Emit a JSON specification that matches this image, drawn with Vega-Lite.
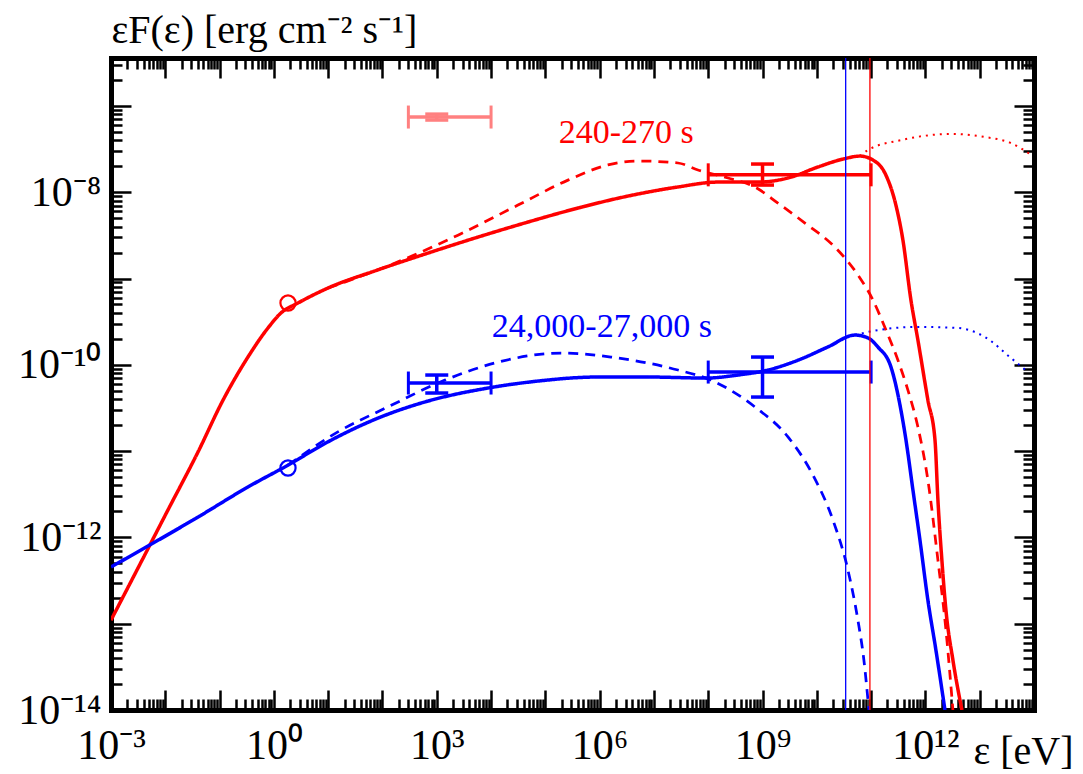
{
  "$schema": "https://vega.github.io/schema/vega-lite/v6.json",
  "width": 923,
  "height": 652,
  "autosize": "none",
  "padding": {"left": 111, "top": 58, "right": 49, "bottom": 64},
  "background": "white",
  "config": {"view": {"stroke": null}, "font": "Liberation Serif, Times New Roman, serif"},
  "resolve": {"axis": {"x": "independent", "y": "independent"}},
  "datasets": {
    "curves": [
      {"epoch": "240-270 s", "model": "total", "energy": 1e-3, "flux": 1.10e-13},
      {"epoch": "240-270 s", "model": "total", "energy": 3.14e-3, "flux": 4.41e-13},
      {"epoch": "240-270 s", "model": "total", "energy": 1.12e-2, "flux": 2.08e-12},
      {"epoch": "240-270 s", "model": "total", "energy": 4.0e-2, "flux": 9.75e-12},
      {"epoch": "240-270 s", "model": "total", "energy": 0.116, "flux": 3.91e-11},
      {"epoch": "240-270 s", "model": "total", "energy": 0.333, "flux": 1.23e-10},
      {"epoch": "240-270 s", "model": "total", "energy": 0.778, "flux": 2.67e-10},
      {"epoch": "240-270 s", "model": "total", "energy": 1.35, "flux": 3.98e-10},
      {"epoch": "240-270 s", "model": "total", "energy": 2.78, "flux": 5.20e-10},
      {"epoch": "240-270 s", "model": "total", "energy": 9.91, "flux": 7.75e-10},
      {"epoch": "240-270 s", "model": "total", "energy": 82.6, "flux": 1.26e-9},
      {"epoch": "240-270 s", "model": "total", "energy": 689, "flux": 1.97e-9},
      {"epoch": "240-270 s", "model": "total", "energy": 5740, "flux": 3.02e-9},
      {"epoch": "240-270 s", "model": "total", "energy": 4.79e4, "flux": 4.51e-9},
      {"epoch": "240-270 s", "model": "total", "energy": 3.98e5, "flux": 6.55e-9},
      {"epoch": "240-270 s", "model": "total", "energy": 3.32e6, "flux": 9.02e-9},
      {"epoch": "240-270 s", "model": "total", "energy": 2.77e7, "flux": 1.15e-8},
      {"epoch": "240-270 s", "model": "total", "energy": 1.51e8, "flux": 1.31e-8},
      {"epoch": "240-270 s", "model": "total", "energy": 8.22e8, "flux": 1.31e-8},
      {"epoch": "240-270 s", "model": "total", "energy": 2.94e9, "flux": 1.46e-8},
      {"epoch": "240-270 s", "model": "total", "energy": 1.05e10, "flux": 1.96e-8},
      {"epoch": "240-270 s", "model": "total", "energy": 3.03e10, "flux": 2.42e-8},
      {"epoch": "240-270 s", "model": "total", "energy": 6.22e10, "flux": 2.62e-8},
      {"epoch": "240-270 s", "model": "total", "energy": 1.08e11, "flux": 2.36e-8},
      {"epoch": "240-270 s", "model": "total", "energy": 1.87e11, "flux": 1.58e-8},
      {"epoch": "240-270 s", "model": "total", "energy": 2.86e11, "flux": 7.09e-9},
      {"epoch": "240-270 s", "model": "total", "energy": 3.85e11, "flux": 2.79e-9},
      {"epoch": "240-270 s", "model": "total", "energy": 5.41e11, "flux": 5.63e-10},
      {"epoch": "240-270 s", "model": "total", "energy": 7.28e11, "flux": 1.93e-10},
      {"epoch": "240-270 s", "model": "total", "energy": 1.11e12, "flux": 3.91e-11},
      {"epoch": "240-270 s", "model": "total", "energy": 1.50e12, "flux": 1.35e-11},
      {"epoch": "240-270 s", "model": "total", "energy": 1.70e12, "flux": 2.71e-12},
      {"epoch": "240-270 s", "model": "total", "energy": 2.01e12, "flux": 5.47e-13},
      {"epoch": "240-270 s", "model": "total", "energy": 2.39e12, "flux": 1.43e-13},
      {"epoch": "240-270 s", "model": "total", "energy": 3.21e12, "flux": 3.79e-14},
      {"epoch": "240-270 s", "model": "total", "energy": 4.70e12, "flux": 1e-14},

      {"epoch": "240-270 s", "model": "component", "energy": 9.91, "flux": 7.75e-10},
      {"epoch": "240-270 s", "model": "component", "energy": 193, "flux": 1.56e-9},
      {"epoch": "240-270 s", "model": "component", "energy": 2455, "flux": 3.18e-9},
      {"epoch": "240-270 s", "model": "component", "energy": 3.13e4, "flux": 7.09e-9},
      {"epoch": "240-270 s", "model": "component", "energy": 2.61e5, "flux": 1.38e-8},
      {"epoch": "240-270 s", "model": "component", "energy": 1.42e6, "flux": 2.07e-8},
      {"epoch": "240-270 s", "model": "component", "energy": 5.07e6, "flux": 2.30e-8},
      {"epoch": "240-270 s", "model": "component", "energy": 2.77e7, "flux": 2.18e-8},
      {"epoch": "240-270 s", "model": "component", "energy": 6.46e7, "flux": 1.81e-8},
      {"epoch": "240-270 s", "model": "component", "energy": 2.31e8, "flux": 1.46e-8},
      {"epoch": "240-270 s", "model": "component", "energy": 7.24e8, "flux": 1.15e-8},
      {"epoch": "240-270 s", "model": "component", "energy": 1.92e9, "flux": 7.48e-9},
      {"epoch": "240-270 s", "model": "component", "energy": 6.04e9, "flux": 4.39e-9},
      {"epoch": "240-270 s", "model": "component", "energy": 2.15e10, "flux": 2.31e-9},
      {"epoch": "240-270 s", "model": "component", "energy": 5.71e10, "flux": 1.10e-9},
      {"epoch": "240-270 s", "model": "component", "energy": 1.08e11, "flux": 5.63e-10},
      {"epoch": "240-270 s", "model": "component", "energy": 1.87e11, "flux": 2.54e-10},
      {"epoch": "240-270 s", "model": "component", "energy": 3.12e11, "flux": 1.13e-10},
      {"epoch": "240-270 s", "model": "component", "energy": 4.76e11, "flux": 5.09e-11},
      {"epoch": "240-270 s", "model": "component", "energy": 7.28e11, "flux": 1.90e-11},
      {"epoch": "240-270 s", "model": "component", "energy": 1.11e12, "flux": 4.63e-12},
      {"epoch": "240-270 s", "model": "component", "energy": 1.70e12, "flux": 5.47e-13},
      {"epoch": "240-270 s", "model": "component", "energy": 2.39e12, "flux": 8.45e-14},
      {"epoch": "240-270 s", "model": "component", "energy": 3.21e12, "flux": 1e-14},

      {"epoch": "240-270 s", "model": "unabsorbed", "energy": 6.22e10, "flux": 2.62e-8},
      {"epoch": "240-270 s", "model": "unabsorbed", "energy": 8.73e10, "flux": 3.08e-8},
      {"epoch": "240-270 s", "model": "unabsorbed", "energy": 3.54e11, "flux": 4.01e-8},
      {"epoch": "240-270 s", "model": "unabsorbed", "energy": 2.95e12, "flux": 4.73e-8},
      {"epoch": "240-270 s", "model": "unabsorbed", "energy": 1.25e13, "flux": 4.36e-8},
      {"epoch": "240-270 s", "model": "unabsorbed", "energy": 3.76e13, "flux": 3.71e-8},
      {"epoch": "240-270 s", "model": "unabsorbed", "energy": 9.55e13, "flux": 2.62e-8},

      {"epoch": "24,000-27,000 s", "model": "total", "energy": 1e-3, "flux": 4.54e-13},
      {"epoch": "24,000-27,000 s", "model": "total", "energy": 4.80e-3, "flux": 7.94e-13},
      {"epoch": "24,000-27,000 s", "model": "total", "energy": 4.0e-2, "flux": 1.72e-12},
      {"epoch": "24,000-27,000 s", "model": "total", "energy": 0.333, "flux": 3.84e-12},
      {"epoch": "24,000-27,000 s", "model": "total", "energy": 1.82, "flux": 6.88e-12},
      {"epoch": "24,000-27,000 s", "model": "total", "energy": 9.91, "flux": 1.28e-11},
      {"epoch": "24,000-27,000 s", "model": "total", "energy": 82.6, "flux": 2.41e-11},
      {"epoch": "24,000-27,000 s", "model": "total", "energy": 689, "flux": 3.80e-11},
      {"epoch": "24,000-27,000 s", "model": "total", "energy": 8770, "flux": 5.38e-11},
      {"epoch": "24,000-27,000 s", "model": "total", "energy": 7.31e4, "flux": 6.48e-11},
      {"epoch": "24,000-27,000 s", "model": "total", "energy": 9.31e5, "flux": 7.22e-11},
      {"epoch": "24,000-27,000 s", "model": "total", "energy": 7.76e6, "flux": 7.22e-11},
      {"epoch": "24,000-27,000 s", "model": "total", "energy": 9.08e7, "flux": 7.02e-11},
      {"epoch": "24,000-27,000 s", "model": "total", "energy": 3.52e8, "flux": 7.61e-11},
      {"epoch": "24,000-27,000 s", "model": "total", "energy": 1.26e9, "flux": 8.70e-11},
      {"epoch": "24,000-27,000 s", "model": "total", "energy": 4.49e9, "flux": 1.13e-10},
      {"epoch": "24,000-27,000 s", "model": "total", "energy": 1.60e10, "flux": 1.61e-10},
      {"epoch": "24,000-27,000 s", "model": "total", "energy": 5.04e10, "flux": 2.21e-10},
      {"epoch": "24,000-27,000 s", "model": "total", "energy": 8.73e10, "flux": 2.05e-10},
      {"epoch": "24,000-27,000 s", "model": "total", "energy": 1.33e11, "flux": 1.61e-10},
      {"epoch": "24,000-27,000 s", "model": "total", "energy": 2.32e11, "flux": 9.42e-11},
      {"epoch": "24,000-27,000 s", "model": "total", "energy": 3.54e11, "flux": 2.99e-11},
      {"epoch": "24,000-27,000 s", "model": "total", "energy": 4.38e11, "flux": 1.35e-11},
      {"epoch": "24,000-27,000 s", "model": "total", "energy": 5.89e11, "flux": 3.54e-12},
      {"epoch": "24,000-27,000 s", "model": "total", "energy": 7.93e11, "flux": 9.32e-13},
      {"epoch": "24,000-27,000 s", "model": "total", "energy": 1.11e12, "flux": 1.88e-13},
      {"epoch": "24,000-27,000 s", "model": "total", "energy": 1.56e12, "flux": 4.96e-14},
      {"epoch": "24,000-27,000 s", "model": "total", "energy": 2.29e12, "flux": 1e-14},

      {"epoch": "24,000-27,000 s", "model": "component", "energy": 1.82, "flux": 6.88e-12},
      {"epoch": "24,000-27,000 s", "model": "component", "energy": 15.1, "flux": 1.67e-11},
      {"epoch": "24,000-27,000 s", "model": "component", "energy": 126, "flux": 3.25e-11},
      {"epoch": "24,000-27,000 s", "model": "component", "energy": 1416, "flux": 6.65e-11},
      {"epoch": "24,000-27,000 s", "model": "component", "energy": 1.18e4, "flux": 1.05e-10},
      {"epoch": "24,000-27,000 s", "model": "component", "energy": 1.94e5, "flux": 1.37e-10},
      {"epoch": "24,000-27,000 s", "model": "component", "energy": 1.61e6, "flux": 1.23e-10},
      {"epoch": "24,000-27,000 s", "model": "component", "energy": 2.77e7, "flux": 8.70e-11},
      {"epoch": "24,000-27,000 s", "model": "component", "energy": 1.12e8, "flux": 6.65e-11},
      {"epoch": "24,000-27,000 s", "model": "component", "energy": 7.24e8, "flux": 3.25e-11},
      {"epoch": "24,000-27,000 s", "model": "component", "energy": 2.94e9, "flux": 1.46e-11},
      {"epoch": "24,000-27,000 s", "model": "component", "energy": 8.47e9, "flux": 5.28e-12},
      {"epoch": "24,000-27,000 s", "model": "component", "energy": 1.98e10, "flux": 1.59e-12},
      {"epoch": "24,000-27,000 s", "model": "component", "energy": 3.74e10, "flux": 4.19e-13},
      {"epoch": "24,000-27,000 s", "model": "component", "energy": 5.71e10, "flux": 1.10e-13},
      {"epoch": "24,000-27,000 s", "model": "component", "energy": 7.36e10, "flux": 3.79e-14},
      {"epoch": "24,000-27,000 s", "model": "component", "energy": 9.10e10, "flux": 1e-14},

      {"epoch": "24,000-27,000 s", "model": "unabsorbed", "energy": 5.04e10, "flux": 2.21e-10},
      {"epoch": "24,000-27,000 s", "model": "unabsorbed", "energy": 8.73e10, "flux": 2.40e-10},
      {"epoch": "24,000-27,000 s", "model": "unabsorbed", "energy": 7.28e11, "flux": 2.75e-10},
      {"epoch": "24,000-27,000 s", "model": "unabsorbed", "energy": 3.97e12, "flux": 2.67e-10},
      {"epoch": "24,000-27,000 s", "model": "unabsorbed", "energy": 1.25e13, "flux": 2.10e-10},
      {"epoch": "24,000-27,000 s", "model": "unabsorbed", "energy": 3.76e13, "flux": 1.20e-10},
      {"epoch": "24,000-27,000 s", "model": "unabsorbed", "energy": 7.73e13, "flux": 8.24e-11}
    ],
    "hbars": [
      {"epoch": "240-270 s (X-ray)", "elo": 300, "ehi": 1.0e4, "flux": 7.43e-8},
      {"epoch": "240-270 s", "elo": 1.0e8, "ehi": 1.0e11, "flux": 1.59e-8},
      {"epoch": "24,000-27,000 s", "elo": 300, "ehi": 1.0e4, "flux": 6.15e-11},
      {"epoch": "24,000-27,000 s", "elo": 1.0e8, "ehi": 1.0e11, "flux": 8.24e-11}
    ],
    "vbars": [
      {"epoch": "240-270 s (X-ray)", "energy": 1.0e3, "flo": 6.86e-8, "fhi": 8.03e-8},
      {"epoch": "240-270 s", "energy": 1.0e9, "flo": 1.21e-8, "fhi": 2.12e-8},
      {"epoch": "24,000-27,000 s", "energy": 1.0e3, "flo": 4.71e-11, "fhi": 7.61e-11},
      {"epoch": "24,000-27,000 s", "energy": 1.0e9, "flo": 4.23e-11, "fhi": 1.23e-10}
    ],
    "vlines": [
      {"epoch": "24,000-27,000 s", "energy": 3.4e10},
      {"epoch": "240-270 s", "energy": 9.5e10}
    ],
    "circles": [
      {"epoch": "240-270 s", "energy": 1.82, "flux": 5.20e-10},
      {"epoch": "24,000-27,000 s", "energy": 1.82, "flux": 6.37e-12}
    ],
    "labels": [
      {"epoch": "240-270 s", "label": "240-270 s", "energy": 3.1e6, "flux": 4.85e-8},
      {"epoch": "24,000-27,000 s", "label": "24,000-27,000 s", "energy": 1.1e6, "flux": 2.74e-10}
    ]
  },
  "layer": [
    {
      "data": {"name": "curves"},
      "mark": {"type": "line", "clip": true, "strokeCap": "butt", "interpolate": "monotone"},
      "encoding": {
        "x": {
          "field": "energy", "type": "quantitative",
          "scale": {"type": "log", "domain": [1e-3, 1e14], "nice": false},
          "axis": {
            "orient": "bottom",
            "values": [1e-3,2e-3,3e-3,4e-3,5e-3,6e-3,7e-3,8e-3,9e-3,1e-2,2e-2,3e-2,4e-2,5e-2,6e-2,7e-2,8e-2,9e-2,1e-1,2e-1,3e-1,4e-1,5e-1,6e-1,7e-1,8e-1,9e-1,1,2,3,4,5,6,7,8,9,10,20,30,40,50,60,70,80,90,100,200,300,400,500,600,700,800,900,1e3,2e3,3e3,4e3,5e3,6e3,7e3,8e3,9e3,1e4,2e4,3e4,4e4,5e4,6e4,7e4,8e4,9e4,1e5,2e5,3e5,4e5,5e5,6e5,7e5,8e5,9e5,1e6,2e6,3e6,4e6,5e6,6e6,7e6,8e6,9e6,1e7,2e7,3e7,4e7,5e7,6e7,7e7,8e7,9e7,1e8,2e8,3e8,4e8,5e8,6e8,7e8,8e8,9e8,1e9,2e9,3e9,4e9,5e9,6e9,7e9,8e9,9e9,1e10,2e10,3e10,4e10,5e10,6e10,7e10,8e10,9e10,1e11,2e11,3e11,4e11,5e11,6e11,7e11,8e11,9e11,1e12,2e12,3e12,4e12,5e12,6e12,7e12,8e12,9e12,1e13,2e13,3e13,4e13,5e13,6e13,7e13,8e13,9e13,1e14],
            "tickSize": {"condition": {"test": "abs(log(datum.value)/LN10 - round(log(datum.value)/LN10)) < 0.01", "value": -20}, "value": -11},
            "tickWidth": 2.5, "tickColor": "black",
            "domainColor": "black", "domainWidth": 5, "domainCap": "square",
            "grid": false,
            "labelExpr": "abs(log(datum.value)/LN10+3)<0.01 ? '10⁻³' : abs(log(datum.value)/LN10)<0.01 ? '10⁰' : abs(log(datum.value)/LN10-3)<0.01 ? '10³' : abs(log(datum.value)/LN10-6)<0.01 ? '10⁶' : abs(log(datum.value)/LN10-9)<0.01 ? '10⁹' : abs(log(datum.value)/LN10-12)<0.01 ? '10¹²' : ''",
            "labelFont": "Liberation Serif, Times New Roman, serif", "labelFontSize": 42, "labelColor": "black",
            "labelBaseline": "alphabetic", "labelPadding": 68, "labelOffset": 0,
            "labelOverlap": false, "labelBound": false, "labelFlush": false,
            "title": "ε [eV]", "titleFont": "Liberation Serif, Times New Roman, serif", "titleFontSize": 40, "titleFontWeight": "normal", "titleColor": "black",
            "titleAlign": "left", "titleBaseline": "alphabetic", "titleAngle": 0, "titleX": 862, "titleY": 53
          }
        },
        "y": {
          "field": "flux", "type": "quantitative",
          "scale": {"type": "log", "domain": [1e-14, 3.59e-7], "nice": false},
          "axis": {
            "orient": "left",
            "values": [1e-14,2e-14,3e-14,4e-14,5e-14,6e-14,7e-14,8e-14,9e-14,1e-13,2e-13,3e-13,4e-13,5e-13,6e-13,7e-13,8e-13,9e-13,1e-12,2e-12,3e-12,4e-12,5e-12,6e-12,7e-12,8e-12,9e-12,1e-11,2e-11,3e-11,4e-11,5e-11,6e-11,7e-11,8e-11,9e-11,1e-10,2e-10,3e-10,4e-10,5e-10,6e-10,7e-10,8e-10,9e-10,1e-9,2e-9,3e-9,4e-9,5e-9,6e-9,7e-9,8e-9,9e-9,1e-8,2e-8,3e-8,4e-8,5e-8,6e-8,7e-8,8e-8,9e-8,1e-7,2e-7,3e-7],
            "tickSize": {"condition": {"test": "abs(log(datum.value)/LN10 - round(log(datum.value)/LN10)) < 0.01", "value": -20}, "value": -11},
            "tickWidth": 2.5, "tickColor": "black",
            "domainColor": "black", "domainWidth": 5, "domainCap": "square",
            "grid": false,
            "labelExpr": "abs(log(datum.value)/LN10+14)<0.01 ? '10⁻¹⁴' : abs(log(datum.value)/LN10+12)<0.01 ? '10⁻¹²' : abs(log(datum.value)/LN10+10)<0.01 ? '10⁻¹⁰' : abs(log(datum.value)/LN10+8)<0.01 ? '10⁻⁸' : ''",
            "labelFont": "Liberation Serif, Times New Roman, serif", "labelFontSize": 42, "labelColor": "black",
            "labelBaseline": "middle", "labelAlign": "right", "labelPadding": 30,
            "labelOverlap": false, "labelBound": false, "labelFlush": false,
            "title": "εF(ε) [erg cm⁻² s⁻¹]", "titleFont": "Liberation Serif, Times New Roman, serif", "titleFontSize": 40, "titleFontWeight": "normal", "titleColor": "black",
            "titleAngle": 0, "titleAlign": "left", "titleBaseline": "alphabetic", "titleX": 0, "titleY": -16
          }
        },
        "color": {"field": "epoch", "type": "nominal", "legend": null,
          "scale": {"domain": ["240-270 s", "24,000-27,000 s", "240-270 s (X-ray)"], "range": ["#ff0000", "#0000ff", "#ff8080"]}},
        "strokeDash": {"field": "model", "type": "nominal", "legend": null,
          "scale": {"domain": ["total", "component", "unabsorbed"], "range": [[1, 0], [10, 7], [2, 5]]}},
        "strokeWidth": {"field": "model", "type": "nominal", "legend": null,
          "scale": {"domain": ["total", "component", "unabsorbed"], "range": [3.5, 2, 2]}}
      }
    },
    {
      "data": {"name": "hbars"},
      "mark": {"type": "rule", "strokeWidth": 3.5},
      "encoding": {
        "x": {
          "field": "elo", "type": "quantitative",
          "scale": {"type": "log", "domain": [1e-3, 1e14], "nice": false},
          "axis": {
            "orient": "top",
            "values": [1e-3,2e-3,3e-3,4e-3,5e-3,6e-3,7e-3,8e-3,9e-3,1e-2,2e-2,3e-2,4e-2,5e-2,6e-2,7e-2,8e-2,9e-2,1e-1,2e-1,3e-1,4e-1,5e-1,6e-1,7e-1,8e-1,9e-1,1,2,3,4,5,6,7,8,9,10,20,30,40,50,60,70,80,90,100,200,300,400,500,600,700,800,900,1e3,2e3,3e3,4e3,5e3,6e3,7e3,8e3,9e3,1e4,2e4,3e4,4e4,5e4,6e4,7e4,8e4,9e4,1e5,2e5,3e5,4e5,5e5,6e5,7e5,8e5,9e5,1e6,2e6,3e6,4e6,5e6,6e6,7e6,8e6,9e6,1e7,2e7,3e7,4e7,5e7,6e7,7e7,8e7,9e7,1e8,2e8,3e8,4e8,5e8,6e8,7e8,8e8,9e8,1e9,2e9,3e9,4e9,5e9,6e9,7e9,8e9,9e9,1e10,2e10,3e10,4e10,5e10,6e10,7e10,8e10,9e10,1e11,2e11,3e11,4e11,5e11,6e11,7e11,8e11,9e11,1e12,2e12,3e12,4e12,5e12,6e12,7e12,8e12,9e12,1e13,2e13,3e13,4e13,5e13,6e13,7e13,8e13,9e13,1e14],
            "tickSize": {"condition": {"test": "abs(log(datum.value)/LN10 - round(log(datum.value)/LN10)) < 0.01", "value": -20}, "value": -11},
            "tickWidth": 2.5, "tickColor": "black",
            "domainColor": "black", "domainWidth": 5, "domainCap": "square",
            "grid": false, "labels": false, "title": null
          }
        },
        "x2": {"field": "ehi"},
        "y": {
          "field": "flux", "type": "quantitative",
          "scale": {"type": "log", "domain": [1e-14, 3.59e-7], "nice": false},
          "axis": {
            "orient": "right",
            "values": [1e-14,2e-14,3e-14,4e-14,5e-14,6e-14,7e-14,8e-14,9e-14,1e-13,2e-13,3e-13,4e-13,5e-13,6e-13,7e-13,8e-13,9e-13,1e-12,2e-12,3e-12,4e-12,5e-12,6e-12,7e-12,8e-12,9e-12,1e-11,2e-11,3e-11,4e-11,5e-11,6e-11,7e-11,8e-11,9e-11,1e-10,2e-10,3e-10,4e-10,5e-10,6e-10,7e-10,8e-10,9e-10,1e-9,2e-9,3e-9,4e-9,5e-9,6e-9,7e-9,8e-9,9e-9,1e-8,2e-8,3e-8,4e-8,5e-8,6e-8,7e-8,8e-8,9e-8,1e-7,2e-7,3e-7],
            "tickSize": {"condition": {"test": "abs(log(datum.value)/LN10 - round(log(datum.value)/LN10)) < 0.01", "value": -20}, "value": -11},
            "tickWidth": 2.5, "tickColor": "black",
            "domainColor": "black", "domainWidth": 5, "domainCap": "square",
            "grid": false, "labels": false, "title": null
          }
        },
        "color": {"field": "epoch", "type": "nominal", "legend": null,
          "scale": {"domain": ["240-270 s", "24,000-27,000 s", "240-270 s (X-ray)"], "range": ["#ff0000", "#0000ff", "#ff8080"]}}
      }
    },
    {
      "data": {"name": "hbars"},
      "mark": {"type": "point", "shape": "M0,-1V1", "filled": false, "size": 529, "strokeWidth": 3, "opacity": 1},
      "encoding": {
        "x": {"field": "elo", "type": "quantitative", "scale": {"type": "log", "domain": [1e-3, 1e14], "nice": false}, "axis": null},
        "y": {"field": "flux", "type": "quantitative", "scale": {"type": "log", "domain": [1e-14, 3.59e-7], "nice": false}, "axis": null},
        "color": {"field": "epoch", "type": "nominal", "legend": null,
          "scale": {"domain": ["240-270 s", "24,000-27,000 s", "240-270 s (X-ray)"], "range": ["#ff0000", "#0000ff", "#ff8080"]}}
      }
    },
    {
      "data": {"name": "hbars"},
      "mark": {"type": "point", "shape": "M0,-1V1", "filled": false, "size": 529, "strokeWidth": 3, "opacity": 1},
      "encoding": {
        "x": {"field": "ehi", "type": "quantitative", "scale": {"type": "log", "domain": [1e-3, 1e14], "nice": false}, "axis": null},
        "y": {"field": "flux", "type": "quantitative", "scale": {"type": "log", "domain": [1e-14, 3.59e-7], "nice": false}, "axis": null},
        "color": {"field": "epoch", "type": "nominal", "legend": null,
          "scale": {"domain": ["240-270 s", "24,000-27,000 s", "240-270 s (X-ray)"], "range": ["#ff0000", "#0000ff", "#ff8080"]}}
      }
    },
    {
      "data": {"name": "vbars"},
      "mark": {"type": "rule", "strokeWidth": 3.5},
      "encoding": {
        "x": {"field": "energy", "type": "quantitative", "scale": {"type": "log", "domain": [1e-3, 1e14], "nice": false}, "axis": null},
        "y": {"field": "flo", "type": "quantitative", "scale": {"type": "log", "domain": [1e-14, 3.59e-7], "nice": false}, "axis": null},
        "y2": {"field": "fhi"},
        "color": {"field": "epoch", "type": "nominal", "legend": null,
          "scale": {"domain": ["240-270 s", "24,000-27,000 s", "240-270 s (X-ray)"], "range": ["#ff0000", "#0000ff", "#ff8080"]}}
      }
    },
    {
      "data": {"name": "vbars"},
      "mark": {"type": "point", "shape": "M-1,0H1", "filled": false, "size": 529, "strokeWidth": 3.5, "opacity": 1},
      "encoding": {
        "x": {"field": "energy", "type": "quantitative", "scale": {"type": "log", "domain": [1e-3, 1e14], "nice": false}, "axis": null},
        "y": {"field": "flo", "type": "quantitative", "scale": {"type": "log", "domain": [1e-14, 3.59e-7], "nice": false}, "axis": null},
        "color": {"field": "epoch", "type": "nominal", "legend": null,
          "scale": {"domain": ["240-270 s", "24,000-27,000 s", "240-270 s (X-ray)"], "range": ["#ff0000", "#0000ff", "#ff8080"]}}
      }
    },
    {
      "data": {"name": "vbars"},
      "mark": {"type": "point", "shape": "M-1,0H1", "filled": false, "size": 529, "strokeWidth": 3.5, "opacity": 1},
      "encoding": {
        "x": {"field": "energy", "type": "quantitative", "scale": {"type": "log", "domain": [1e-3, 1e14], "nice": false}, "axis": null},
        "y": {"field": "fhi", "type": "quantitative", "scale": {"type": "log", "domain": [1e-14, 3.59e-7], "nice": false}, "axis": null},
        "color": {"field": "epoch", "type": "nominal", "legend": null,
          "scale": {"domain": ["240-270 s", "24,000-27,000 s", "240-270 s (X-ray)"], "range": ["#ff0000", "#0000ff", "#ff8080"]}}
      }
    },
    {
      "data": {"name": "vlines"},
      "mark": {"type": "rule", "strokeWidth": 1.3},
      "encoding": {
        "x": {"field": "energy", "type": "quantitative", "scale": {"type": "log", "domain": [1e-3, 1e14], "nice": false}, "axis": null},
        "color": {"field": "epoch", "type": "nominal", "legend": null,
          "scale": {"domain": ["240-270 s", "24,000-27,000 s", "240-270 s (X-ray)"], "range": ["#ff0000", "#0000ff", "#ff8080"]}}
      }
    },
    {
      "data": {"name": "circles"},
      "mark": {"type": "point", "shape": "circle", "filled": false, "size": 230, "strokeWidth": 2.2, "opacity": 1},
      "encoding": {
        "x": {"field": "energy", "type": "quantitative", "scale": {"type": "log", "domain": [1e-3, 1e14], "nice": false}, "axis": null},
        "y": {"field": "flux", "type": "quantitative", "scale": {"type": "log", "domain": [1e-14, 3.59e-7], "nice": false}, "axis": null},
        "color": {"field": "epoch", "type": "nominal", "legend": null,
          "scale": {"domain": ["240-270 s", "24,000-27,000 s", "240-270 s (X-ray)"], "range": ["#ff0000", "#0000ff", "#ff8080"]}}
      }
    },
    {
      "data": {"name": "labels"},
      "mark": {"type": "text", "font": "Liberation Serif, Times New Roman, serif", "fontSize": 34, "align": "center", "baseline": "middle"},
      "encoding": {
        "x": {"field": "energy", "type": "quantitative", "scale": {"type": "log", "domain": [1e-3, 1e14], "nice": false}, "axis": null},
        "y": {"field": "flux", "type": "quantitative", "scale": {"type": "log", "domain": [1e-14, 3.59e-7], "nice": false}, "axis": null},
        "text": {"field": "label"},
        "color": {"field": "epoch", "type": "nominal", "legend": null,
          "scale": {"domain": ["240-270 s", "24,000-27,000 s", "240-270 s (X-ray)"], "range": ["#ff0000", "#0000ff", "#ff8080"]}}
      }
    }
  ]
}
